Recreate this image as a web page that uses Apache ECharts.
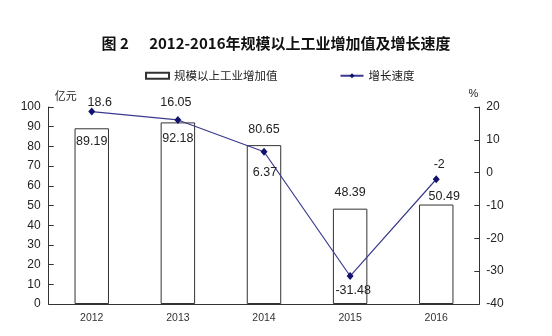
<!DOCTYPE html>
<html><head><meta charset="utf-8">
<script src="https://cdn.jsdelivr.net/npm/echarts@6/dist/echarts.min.js"></script>
<style>html,body{margin:0;padding:0;background:#fff}#c{width:552px;height:336px}</style>
</head><body><div id="c"></div>
<script>
const categories = ['2012','2013','2014','2015','2016'];
const valueAdded = [89.19, 92.18, 80.65, 48.39, 50.49];
const growthRate = [18.6, 16.05, 6.37, -31.48, -2];
const leftTicks = {min: 0, max: 100, interval: 10};
const rightTicks = {min: -40, max: 20, interval: 10};

const barLabelStyle = [
  {position: 'insideTop', distance: 7},
  {position: 'insideTop', distance: 10},
  {position: 'top', distance: 9},
  {position: 'top', distance: 10},
  {position: 'top', distance: 1, offset: [8, 0]}
];
const lineLabelOffset = [[8, -9], [-2, -17], [1, 21], [3, 15], [3, -15]];

const font = 'Liberation Sans, Arial, sans-serif';
const cjk = '"Noto Sans CJK SC", sans-serif';
const chart = echarts.init(document.getElementById('c'));
chart.setOption({
  animation: false,
  backgroundColor: '#fff',
  title: {
    text: '图 2      2012-2016年规模以上工业增加值及增长速度',
    left: 'center', top: 31,
    textStyle: {fontSize: 15, fontWeight: 'bold', color: '#111', fontFamily: cjk}
  },
  legend: {
    left: 140, top: 65,
    itemWidth: 23, itemHeight: 6, itemGap: 62,
    textStyle: {fontSize: 11.5, color: '#222', fontFamily: cjk},
    data: [
      {name: '规模以上工业增加值', icon: 'rect'},
      {name: '增长速度'}
    ]
  },
  grid: {left: 48.7, right: 72.7, top: 107, bottom: 32, containLabel: false},
  xAxis: {
    type: 'category', data: categories,
    axisLine: {lineStyle: {color: '#333', width: 1}},
    axisTick: {inside: true, length: 5, lineStyle: {color: '#333'}},
    axisLabel: {fontSize: 10.5, color: '#333', fontFamily: font, margin: 9}
  },
  yAxis: [
    {
      type: 'value', min: leftTicks.min, max: leftTicks.max, interval: leftTicks.interval,
      name: '亿元', nameLocation: 'end', nameGap: 6,
      nameTextStyle: {fontSize: 11, color: '#222', fontFamily: cjk, align: 'left', padding: [0, 0, 0, 6]},
      axisLine: {show: true, lineStyle: {color: '#333'}},
      axisTick: {show: true, inside: true, length: 5, lineStyle: {color: '#333'}},
      axisLabel: {fontSize: 12, color: '#222', fontFamily: font, margin: 8},
      splitLine: {show: false}
    },
    {
      type: 'value', min: rightTicks.min, max: rightTicks.max, interval: rightTicks.interval,
      position: 'right',
      name: '%', nameLocation: 'end', nameGap: 8,
      nameTextStyle: {fontSize: 11, color: '#222', fontFamily: font, align: 'right', padding: [0, 1, 0, 0]},
      axisLine: {show: true, lineStyle: {color: '#333'}},
      axisTick: {show: true, inside: true, length: 5, lineStyle: {color: '#333'}},
      axisLabel: {fontSize: 12, color: '#222', fontFamily: font, margin: 7},
      splitLine: {show: false}
    }
  ],
  series: [
    {
      name: '规模以上工业增加值', type: 'bar', yAxisIndex: 0, barWidth: '40%',
      itemStyle: {color: '#fff', borderColor: '#333', borderWidth: 1},
      data: valueAdded.map((v, i) => ({value: v, label: Object.assign({show: true}, barLabelStyle[i])})),
      label: {show: true, fontSize: 12.5, color: '#222', fontFamily: font}
    },
    {
      name: '增长速度', type: 'line', yAxisIndex: 1,
      symbol: 'diamond', symbolSize: [7, 8],
      lineStyle: {color: '#3a3a8e', width: 1.2},
      itemStyle: {color: '#12126e'},
      data: growthRate.map((v, i) => ({value: v, label: {show: true, position: 'inside', offset: lineLabelOffset[i]}})),
      label: {show: true, fontSize: 12.5, color: '#222', fontFamily: font}
    }
  ]
});
</script></body></html>
